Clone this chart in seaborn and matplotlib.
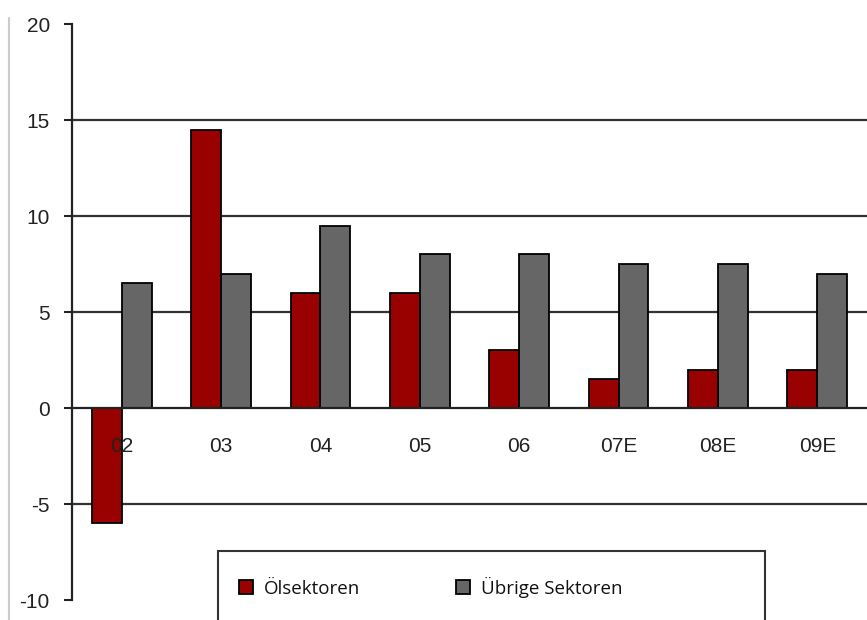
import matplotlib
matplotlib.use("Agg")
import matplotlib.pyplot as plt
import seaborn as sns
import pandas as pd
from matplotlib.lines import Line2D
from matplotlib.patches import Rectangle

categories = ["02", "03", "04", "05", "06", "07E", "08E", "09E"]
oel_values = [-6.0, 14.5, 6.0, 6.0, 3.0, 1.5, 2.0, 2.0]
uebrige_values = [6.5, 7.0, 9.5, 8.0, 8.0, 7.5, 7.5, 7.0]
series_names = ["Ölsektoren", "Übrige Sektoren"]
series_colors = ["#990000", "#666666"]
y_ticks = [-10, -5, 0, 5, 10, 15, 20]
y_tick_labels = ["-10", "-5", "0", "5", "10", "15", "20"]
grid_values = [-5, 5, 10, 15]

df = pd.DataFrame({
    "Jahr": categories * 2,
    "Wert": oel_values + uebrige_values,
    "Serie": [series_names[0]] * len(categories) + [series_names[1]] * len(categories),
})

sns.set_theme(style="white")
plt.rcParams["font.family"] = ["Liberation Sans", "DejaVu Sans"]
plt.rcParams["axes.unicode_minus"] = False

fig = plt.figure(figsize=(8.67, 6.2), dpi=100)
ax = fig.add_axes([72 / 867, 20 / 620, (867 - 72) / 867, 576 / 620])

sns.barplot(data=df, x="Jahr", y="Wert", hue="Serie", order=categories,
            hue_order=series_names, palette=series_colors, width=0.6, gap=0,
            edgecolor="black", linewidth=1.3, saturation=1, ax=ax, legend=True)
ax.set_axisbelow(False)

for v in grid_values:
    ax.axhline(v, color="#333333", linewidth=1.6, zorder=0.5)

ax.set_xlim(-0.5, 7.45)
ax.set_ylim(-10, 20)
ax.set_yticks(y_ticks)
ax.set_yticklabels(y_tick_labels)
ax.set_xticks(range(len(categories)))
ax.set_xticklabels(categories)
ax.set_xticks([i + 0.5 for i in range(len(categories))], minor=True)
ax.tick_params(axis="x", which="major", length=0, pad=21, labelsize=15, labelcolor="#222222")
ax.tick_params(axis="x", which="minor", length=5, width=1.3, color="#222222", direction="out")
ax.tick_params(axis="y", which="major", length=6, width=1.5, color="#222222", direction="out",
               pad=10, left=True, labelsize=15, labelcolor="#222222")
ax.set_xlabel("")
ax.set_ylabel("")

for s in ["top", "right"]:
    ax.spines[s].set_visible(False)
ax.spines["bottom"].set_position(("data", 0))
ax.spines["bottom"].set_color("#222222")
ax.spines["bottom"].set_linewidth(1.6)
ax.spines["left"].set_color("#222222")
ax.spines["left"].set_linewidth(1.6)

handles, labels = ax.get_legend_handles_labels()
ax.legend_.remove()
fig.add_artist(Rectangle((218 / 867, -0.05), (765 - 218) / 867, (0.05 + (620 - 551) / 620),
                         transform=fig.transFigure, facecolor="white", edgecolor="#333333",
                         linewidth=1.5, zorder=5))
leg = fig.legend(handles, labels, loc="center left", bbox_to_anchor=(222 / 867, 1 - 587 / 620),
                 ncol=2, frameon=False, handlelength=0.75, handleheight=0.75,
                 handletextpad=0.6, columnspacing=5.1, labelcolor="#111111",
                 prop={"family": ["Open Sans", "DejaVu Sans"], "size": 13.5})
leg.set_zorder(6)

fig.add_artist(Line2D([8.5 / 867, 8.5 / 867], [0, 1 - 18 / 620], transform=fig.transFigure,
                      color="#cccccc", linewidth=1.5))

fig.savefig("out.png", dpi=100)
